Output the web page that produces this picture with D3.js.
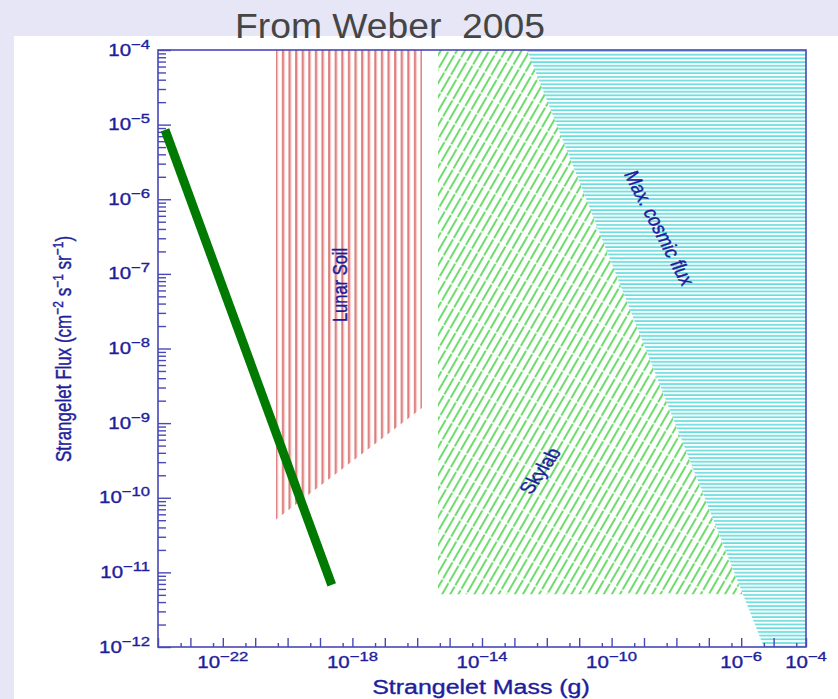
<!DOCTYPE html>
<html>
<head>
<meta charset="utf-8">
<script src="https://cdn.jsdelivr.net/npm/d3@7"></script>
<style>
  html, body { margin: 0; padding: 0; background: #e6e6f6; }
  svg { display: block; }
</style>
</head>
<body>
<svg id="chart" width="838" height="699"></svg>
<script>
// ---- data -------------------------------------------------------------
const massDomain = [1e-24, 1e-4];   // g
const fluxDomain = [1e-12, 1e-4];   // cm^-2 s^-1 sr^-1

// Lunar soil limit: vertical band with a sloping lower edge
const lunarMass = [4.4e-21, 1.4e-16, 1.4e-16, 4.4e-21];
const lunarFlux = [1e-4, 1e-4, 1.6e-9, 5.1e-11];

// Skylab limit
const skylabMass = [4.4e-16, 2.45e-13, 1.1e-6, 4.4e-16];
const skylabFlux = [1e-4, 1e-4, 5.1e-12, 5.1e-12];

// Maximum cosmic flux region
const cosmicMass = [2.45e-13, 1e-4, 1e-4, 5.0e-6];
const cosmicFlux = [1e-4, 1e-4, 1e-12, 1e-12];

// Predicted strangelet flux
const predMass = [1.65e-24, 2.3e-19];
const predFlux = [8.5e-6, 6.8e-12];

// Tick labels (powers of ten)
const xLabelExps = [-22, -18, -14, -10, -6, -4];
const yLabelExps = [-12, -11, -10, -9, -8, -7, -6, -5, -4];

const regionLabels = [
  { text: "Lunar Soil", mass: 4.0e-19, flux: 7.1e-8, angle: -90 },
  { text: "Skylab", mass: 6.2e-13, flux: 2.3e-10, angle: -61 },
  { text: "Max. cosmic flux", mass: 3.0e-9, flux: 4.1e-7, angle: 68 }
];

// ---- layout -------------------------------------------------------------
const W = 838, H = 699;
const plot = { left: 158, right: 806, top: 50, bottom: 647 };
const SX = 1.28;                 // horizontal stretch of the figure's lettering
const axisBlue = "#4848b8";
const textBlue = "#1e1e9c";

const svg = d3.select("#chart");

const x = d3.scaleLog().domain(massDomain).range([plot.left, plot.right]);
const y = d3.scaleLog().domain(fluxDomain).range([plot.bottom, plot.top]);

// background + white panel
svg.append("rect").attr("width", W).attr("height", H).attr("fill", "#e6e6f6");
svg.append("rect").attr("x", 14).attr("y", 36).attr("width", W - 14).attr("height", H - 36).attr("fill", "#ffffff");

// ---- hatch patterns -----------------------------------------------------
const defs = svg.append("defs");

const pRed = defs.append("pattern").attr("id", "hatchRed")
  .attr("patternUnits", "userSpaceOnUse").attr("x", 275.2).attr("y", 0)
  .attr("width", 6.6).attr("height", 10);
pRed.append("line").attr("x1", 2.5).attr("x2", 2.5).attr("y1", 0).attr("y2", 10)
  .attr("stroke", "#f3c0c0").attr("stroke-width", 1.2);
pRed.append("line").attr("x1", 1.0).attr("x2", 1.0).attr("y1", 0).attr("y2", 10)
  .attr("stroke", "#d86c6c").attr("stroke-width", 1.6);

const pGreen = defs.append("pattern").attr("id", "hatchGreen")
  .attr("patternUnits", "userSpaceOnUse")
  .attr("width", 7.0).attr("height", 20)
  .attr("patternTransform", "rotate(30)");
pGreen.append("line").attr("x1", 1).attr("x2", 1).attr("y1", 0.8).attr("y2", 19.2)
  .attr("stroke", "#48d448").attr("stroke-width", 1.6);

const pCyan = defs.append("pattern").attr("id", "hatchCyan")
  .attr("patternUnits", "userSpaceOnUse").attr("x", 0).attr("y", 50)
  .attr("width", 10).attr("height", 3.7);
pCyan.append("line").attr("x1", 0).attr("x2", 10).attr("y1", 1).attr("y2", 1)
  .attr("stroke", "#48d6d6").attr("stroke-width", 1.4);

// ---- regions ------------------------------------------------------------
const poly = (ms, fs) => ms.map((m, i) => [x(m), y(fs[i])]);
const line = d3.line();

svg.append("path").attr("d", line(poly(cosmicMass, cosmicFlux)) + "Z").attr("fill", "url(#hatchCyan)");
svg.append("path").attr("d", line(poly(skylabMass, skylabFlux)) + "Z").attr("fill", "url(#hatchGreen)");
svg.append("path").attr("d", line(poly(lunarMass, lunarFlux)) + "Z").attr("fill", "url(#hatchRed)");

// ---- axes ---------------------------------------------------------------
const decades = (a, b) => d3.range(a, b + 1).map(e => Math.pow(10, e));
const yMajor = decades(-12, -4);
const yMinor = d3.range(-12, -4).flatMap(e => d3.range(2, 10).map(k => k * Math.pow(10, e)));
const xMajor = decades(-24, -4);
const xMinor = d3.range(-24, -4).map(e => 5 * Math.pow(10, e));

function styleAxis(g) {
  g.selectAll("path").remove();
  g.selectAll("text").remove();
  g.selectAll("line").attr("stroke", axisBlue).attr("stroke-width", 1.4);
}

svg.append("g").attr("transform", `translate(${plot.left},0)`)
  .call(d3.axisLeft(y).tickValues(yMinor).tickSize(-8).tickFormat("")).call(styleAxis);
svg.append("g").attr("transform", `translate(${plot.left},0)`)
  .call(d3.axisLeft(y).tickValues(yMajor).tickSize(-13).tickFormat("")).call(styleAxis);
svg.append("g").attr("transform", `translate(0,${plot.bottom})`)
  .call(d3.axisBottom(x).tickValues(xMinor).tickSize(-4).tickFormat("")).call(styleAxis);
svg.append("g").attr("transform", `translate(0,${plot.bottom})`)
  .call(d3.axisBottom(x).tickValues(xMajor).tickSize(-9).tickFormat("")).call(styleAxis);

// frame
svg.append("rect")
  .attr("x", plot.left).attr("y", plot.top)
  .attr("width", plot.right - plot.left).attr("height", plot.bottom - plot.top)
  .attr("fill", "none").attr("stroke", axisBlue).attr("stroke-width", 1.6);

// ---- tick labels ----------------------------------------------------------
const FONT = "'Liberation Sans', Arial, Helvetica, sans-serif";

// slightly heavier lettering for the figure's blue text
const heavy = t => t.attr("stroke", textBlue).attr("stroke-width", 0.35);

function powerText(t, exp) {
  t.append("tspan").attr("font-size", 16).text("10");
  t.append("tspan").attr("font-size", 13).attr("dy", -7).text("\u2212" + Math.abs(exp));
}

yLabelExps.forEach(e => {
  const t = svg.append("text")
    .attr("transform", `translate(150,${y(Math.pow(10, e)) + 5.5}) scale(${SX},1)`)
    .attr("text-anchor", "end").attr("fill", textBlue).attr("font-family", FONT)
    .call(heavy);
  powerText(t, e);
});

xLabelExps.forEach(e => {
  const t = svg.append("text")
    .attr("transform", `translate(${x(Math.pow(10, e))},668) scale(${SX},1)`)
    .attr("text-anchor", "middle").attr("fill", textBlue).attr("font-family", FONT)
    .call(heavy);
  powerText(t, e);
});

// ---- axis titles ------------------------------------------------------------
svg.append("text")
  .attr("transform", `translate(481,694) scale(${SX},1)`)
  .attr("text-anchor", "middle").attr("fill", textBlue).attr("font-family", FONT)
  .attr("font-size", 19.5).call(heavy).text("Strangelet Mass (g)");

const yt = svg.append("text")
  .attr("transform", `translate(71,349) scale(${SX},1) rotate(-90)`)
  .attr("text-anchor", "middle").attr("fill", textBlue).attr("font-family", FONT)
  .attr("font-size", 17).call(heavy);
[["Strangelet Flux (cm", 0], ["\u22122", -6], [" s", 6], ["\u22121", -6], [" sr", 6], ["\u22121", -6], [")", 6]]
  .forEach(([s, dy]) => {
    const sp = yt.append("tspan").attr("dy", dy).text(s);
    if (dy < 0) sp.attr("font-size", 12);
  });

// ---- region labels -----------------------------------------------------------
regionLabels.forEach(d => {
  svg.append("text")
    .attr("transform", `translate(${x(d.mass)},${y(d.flux)}) scale(${SX},1) rotate(${d.angle})`)
    .attr("text-anchor", "middle").attr("dominant-baseline", "central")
    .attr("fill", textBlue).attr("font-family", FONT).attr("font-size", 16.5)
    .call(heavy)
    .text(d.text);
});

// ---- predicted flux line ---------------------------------------------------------
svg.append("path")
  .attr("d", line(poly(predMass, predFlux)))
  .attr("stroke", "#007a00").attr("stroke-width", 9).attr("fill", "none");

// ---- title ------------------------------------------------------------------
svg.append("text")
  .attr("x", 235).attr("y", 38)
  .attr("textLength", 310).attr("lengthAdjust", "spacingAndGlyphs")
  .attr("fill", "#454545").attr("font-family", FONT).attr("font-size", 35)
  .style("white-space", "pre")
  .text("From Weber  2005");
</script>
</body>
</html>
